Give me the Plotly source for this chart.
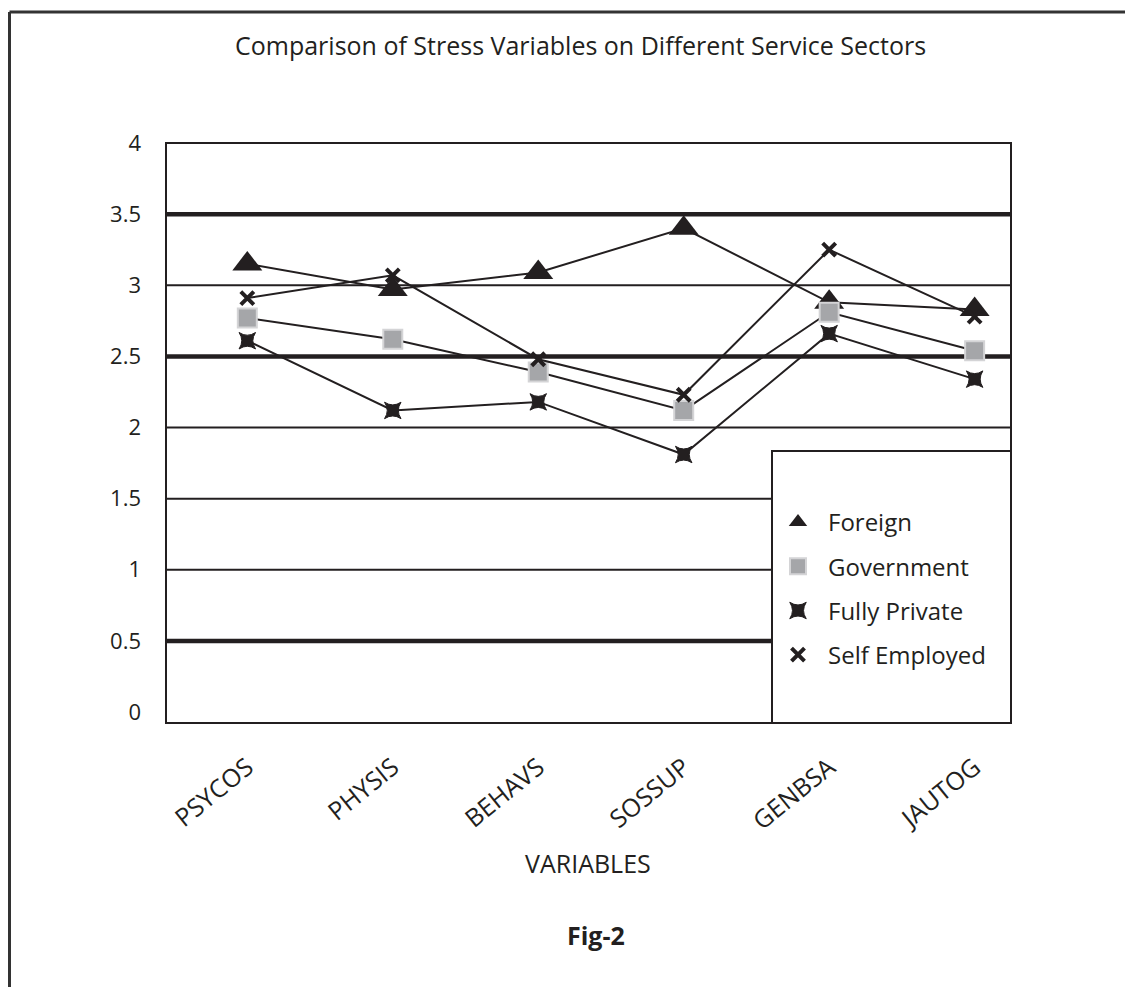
import plotly.graph_objects as go

# ---------------- data ----------------
categories = ["PSYCOS", "PHYSIS", "BEHAVS", "SOSSUP", "GENBSA", "JAUTOG"]
foreign = [3.15, 2.97, 3.09, 3.40, 2.88, 2.83]
government = [2.77, 2.62, 2.39, 2.12, 2.81, 2.54]
fully_private = [2.61, 2.12, 2.18, 1.81, 2.66, 2.34]
self_employed = [2.91, 3.07, 2.48, 2.23, 3.25, 2.78]
series_names = ["Foreign", "Government", "Fully Private", "Self Employed"]
y_tick_values = [0, 0.5, 1, 1.5, 2, 2.5, 3, 3.5, 4]
y_tick_labels = ["0", "0.5", "1", "1.5", "2", "2.5", "3", "3.5", "4"]

# ---------------- style ----------------
FONT = "Open Sans"
INK = "#231f20"
thin_grid = [1, 1.5, 2, 3]
thick_grid = [0.5, 2.5, 3.5]

OFF = 8  # page body margin
W, H = 1133, 987
L, T = 166 - OFF, 143 - OFF
R = W - (1011 - OFF)
B = H - (723 - OFF)
PW, PH = W - L - R, H - T - B


def px_x(px):
    return (px - OFF - L) / PW


def px_y(py):
    return (H - B - (py - OFF)) / PH


markers = [
    dict(symbol="triangle-up", size=26, color=INK),
    dict(symbol="square", size=19, color="#a5a6a9", line=dict(color="#d4d4d6", width=2)),
    dict(symbol="star-square", size=15, color=INK, line=dict(color=INK, width=1)),
    dict(symbol="x-thin", size=13, color=INK, line=dict(color=INK, width=4)),
]

fig = go.Figure()
line_style = dict(color=INK, width=2)
for name, values, mk in zip(series_names,
                            [foreign, government, fully_private, self_employed],
                            markers):
    fig.add_trace(go.Scatter(x=categories, y=values, name=name, mode="lines+markers",
                             line=line_style, marker=mk, showlegend=False))
# legend entries (markers only, as in the reference)
for i, (name, mk) in enumerate(zip(series_names, markers)):
    fig.add_trace(go.Scatter(x=[None], y=[None], name=name, mode="markers",
                             marker=mk, legendgroup=str(i), showlegend=True))

shapes = []
for v in thin_grid:
    shapes.append(dict(type="line", xref="paper", yref="y", x0=0, x1=1, y0=v, y1=v,
                       line=dict(color=INK, width=2), layer="below"))
for v in thick_grid:
    shapes.append(dict(type="line", xref="paper", yref="y", x0=0, x1=1, y0=v, y1=v,
                       line=dict(color=INK, width=4.5), layer="below"))
# plot-area border
shapes.append(dict(type="rect", xref="paper", yref="paper", x0=0, x1=1, y0=0, y1=1,
                   line=dict(color=INK, width=2), layer="above"))
# legend box
shapes.append(dict(type="rect", xref="paper", yref="paper",
                   x0=px_x(772), x1=1, y0=0, y1=px_y(451),
                   line=dict(color=INK, width=2), fillcolor="white", layer="above"))
# outer frame (top + left)
shapes.append(dict(type="line", xref="paper", yref="paper",
                   x0=px_x(9.5), x1=px_x(1150), y0=px_y(12), y1=px_y(12),
                   line=dict(color="#333333", width=3)))
shapes.append(dict(type="line", xref="paper", yref="paper",
                   x0=px_x(9.5), x1=px_x(9.5), y0=px_y(12), y1=px_y(1000),
                   line=dict(color="#333333", width=3)))

annotations = [
    dict(text="Comparison of Stress Variables on Different Service Sectors",
         xref="paper", yref="paper", x=px_x(580), y=px_y(45),
         xanchor="center", yanchor="middle", showarrow=False,
         font=dict(family=FONT, size=25, color=INK)),
    dict(text="VARIABLES", xref="paper", yref="paper", x=px_x(588), y=px_y(863),
         xanchor="center", yanchor="middle", showarrow=False,
         font=dict(family=FONT, size=25, color=INK)),
    dict(text="<b>Fig-2</b>", xref="paper", yref="paper", x=px_x(596), y=px_y(935),
         xanchor="center", yanchor="middle", showarrow=False,
         font=dict(family=FONT, size=25, color=INK)),
]

fig.update_layout(
    width=W, height=H,
    margin=dict(l=L, r=R, t=T, b=B, pad=0),
    paper_bgcolor="white", plot_bgcolor="white",
    font=dict(family=FONT, color=INK),
    shapes=shapes, annotations=annotations,
    showlegend=True,
    legend=dict(x=px_x(768), y=px_y(500), xanchor="left", yanchor="top",
                bgcolor="rgba(0,0,0,0)", borderwidth=0,
                font=dict(family=FONT, size=24, color=INK),
                tracegroupgap=10, itemwidth=50, itemsizing="trace"),
    xaxis=dict(type="category", categoryorder="array", categoryarray=categories,
               range=[-0.559, 5.25], showgrid=False, zeroline=False,
               showline=False, ticks="", tickangle=-39,
               ticklabelstandoff=24,
               tickfont=dict(family=FONT, size=25, color=INK)),
    yaxis=dict(range=[-0.0773, 4.0], tickvals=y_tick_values, ticktext=y_tick_labels,
               showgrid=False, zeroline=False, showline=False, ticks="",
               ticklabelstandoff=24,
               tickfont=dict(family=FONT, size=22, color=INK)),
)

fig.write_html("out.html")
